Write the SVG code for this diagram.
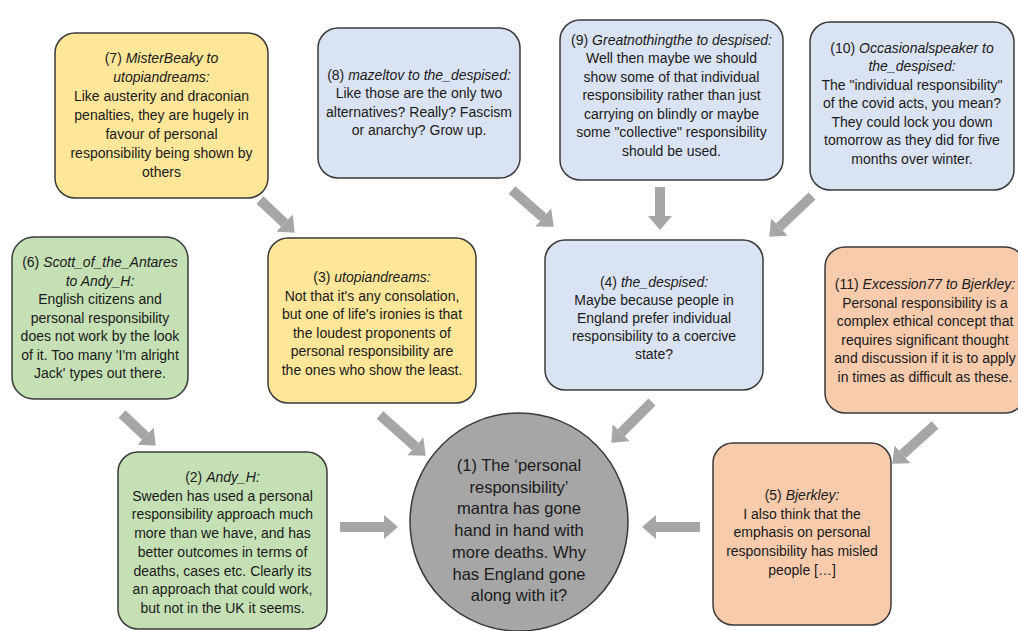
<svg xmlns="http://www.w3.org/2000/svg" width="1018" height="631" viewBox="0 0 1018 631">
<style>
.box{stroke:#3a3a3a;stroke-width:1.5}
.yel{fill:#ffe699}.grn{fill:#c5e0b4}.blu{fill:#dae3f3}.org{fill:#f8cbad}
.t{font-family:"Liberation Sans",Arial,sans-serif;font-size:14px;fill:#1a1a1a;text-anchor:middle}
.c{font-family:"Liberation Sans",Arial,sans-serif;font-size:16.5px;fill:#1a1a1a;text-anchor:middle}
.i{font-style:italic}
.conn{stroke:#a6a6a6;stroke-width:10;fill:none}
</style>
<defs>
<marker id="ah" markerUnits="userSpaceOnUse" markerWidth="14" markerHeight="24" refX="0" refY="12" orient="auto" viewBox="0 0 14 24">
<path d="M0,0 L14,12 L0,24 Z" fill="#a6a6a6"/>
</marker>
</defs>
<rect width="1018" height="631" fill="#ffffff"/>
<g id="connectors">
<line class="conn" x1="260" y1="200" x2="284.5" y2="223.1" marker-end="url(#ah)"/>
<line class="conn" x1="512" y1="190" x2="543.2" y2="217.4" marker-end="url(#ah)"/>
<line class="conn" x1="660" y1="187" x2="660" y2="216" marker-end="url(#ah)"/>
<line class="conn" x1="812" y1="196" x2="779.4" y2="227" marker-end="url(#ah)"/>
<line class="conn" x1="122" y1="414" x2="145.5" y2="436.1" marker-end="url(#ah)"/>
<line class="conn" x1="380" y1="415" x2="415.3" y2="446.4" marker-end="url(#ah)"/>
<line class="conn" x1="652" y1="402" x2="621.2" y2="432.8" marker-end="url(#ah)"/>
<line class="conn" x1="935" y1="425" x2="902.6" y2="454.3" marker-end="url(#ah)"/>
<line class="conn" x1="340" y1="527" x2="384" y2="527" marker-end="url(#ah)"/>
<line class="conn" x1="700" y1="527" x2="656" y2="527" marker-end="url(#ah)"/>
</g>
<g id="n7">
<rect class="box yel" x="55" y="33" width="213" height="165" rx="20"/>
<text class="t"><tspan x="161.5" y="63">(7) <tspan class="i">MisterBeaky to</tspan></tspan><tspan x="161.5" y="82" class="i">utopiandreams:</tspan><tspan x="161.5" y="101">Like austerity and draconian</tspan><tspan x="161.5" y="120">penalties, they are hugely in</tspan><tspan x="161.5" y="139">favour of personal</tspan><tspan x="161.5" y="158">responsibility being shown by</tspan><tspan x="161.5" y="177">others</tspan></text>
</g>
<g id="n8">
<rect class="box blu" x="318" y="28" width="202" height="150" rx="20"/>
<text class="t"><tspan x="419" y="79.5">(8) <tspan class="i">mazeltov to the_despised:</tspan></tspan><tspan x="419" y="98">Like those are the only two</tspan><tspan x="419" y="116.5">alternatives? Really? Fascism</tspan><tspan x="419" y="135">or anarchy? Grow up.</tspan></text>
</g>
<g id="n9">
<rect class="box blu" x="560" y="20" width="223" height="160" rx="20"/>
<text class="t"><tspan x="671.5" y="44.5">(9) <tspan class="i">Greatnothingthe to despised:</tspan></tspan><tspan x="671.5" y="63">Well then maybe we should</tspan><tspan x="671.5" y="81.5">show some of that individual</tspan><tspan x="671.5" y="100">responsibility rather than just</tspan><tspan x="671.5" y="118.5">carrying on blindly or maybe</tspan><tspan x="671.5" y="137">some "collective" responsibility</tspan><tspan x="671.5" y="155.5">should be used.</tspan></text>
</g>
<g id="n10">
<rect class="box blu" x="810" y="22" width="204" height="168" rx="20"/>
<text class="t"><tspan x="912" y="52.5">(10) <tspan class="i">Occasionalspeaker to</tspan></tspan><tspan x="912" y="71" class="i">the_despised:</tspan><tspan x="912" y="89.5">The "individual responsibility"</tspan><tspan x="912" y="108">of the covid acts, you mean?</tspan><tspan x="912" y="126.5">They could lock you down</tspan><tspan x="912" y="145">tomorrow as they did for five</tspan><tspan x="912" y="163.5">months over winter.</tspan></text>
</g>
<g id="n6">
<rect class="box grn" x="12" y="237" width="176" height="162" rx="22"/>
<text class="t"><tspan x="100" y="267">(6) <tspan class="i">Scott_of_the_Antares</tspan></tspan><tspan x="100" y="285.5" class="i">to Andy_H:</tspan><tspan x="100" y="304">English citizens and</tspan><tspan x="100" y="322.5">personal responsibility</tspan><tspan x="100" y="341">does not work by the look</tspan><tspan x="100" y="359.5">of it. Too many 'I'm alright</tspan><tspan x="100" y="378">Jack' types out there.</tspan></text>
</g>
<g id="n3">
<rect class="box yel" x="268" y="238" width="208" height="165" rx="20"/>
<text class="t"><tspan x="372" y="282">(3) <tspan class="i">utopiandreams:</tspan></tspan><tspan x="372" y="300.5">Not that it's any consolation,</tspan><tspan x="372" y="319">but one of life's ironies is that</tspan><tspan x="372" y="337.5">the loudest proponents of</tspan><tspan x="372" y="356">personal responsibility are</tspan><tspan x="372" y="374.5">the ones who show the least.</tspan></text>
</g>
<g id="n4">
<rect class="box blu" x="545" y="240" width="218" height="150" rx="20"/>
<text class="t"><tspan x="654" y="286.5">(4) <tspan class="i">the_despised:</tspan></tspan><tspan x="654" y="304.5">Maybe because people in</tspan><tspan x="654" y="322.5">England prefer individual</tspan><tspan x="654" y="340.5">responsibility to a coercive</tspan><tspan x="654" y="358.5">state?</tspan></text>
</g>
<g id="n11">
<rect class="box org" x="825" y="247" width="200" height="166" rx="20"/>
<text class="t"><tspan x="925" y="289">(11) <tspan class="i">Excession77 to Bjerkley:</tspan></tspan><tspan x="925" y="307.5">Personal responsibility is a</tspan><tspan x="925" y="326">complex ethical concept that</tspan><tspan x="925" y="344.5">requires significant thought</tspan><tspan x="925" y="363">and discussion if it is to apply</tspan><tspan x="925" y="381.5">in times as difficult as these.</tspan></text>
</g>
<g id="n2">
<rect class="box grn" x="118" y="452" width="209" height="177" rx="20"/>
<text class="t"><tspan x="222.5" y="482">(2) <tspan class="i">Andy_H:</tspan></tspan><tspan x="222.5" y="500.7">Sweden has used a personal</tspan><tspan x="222.5" y="519.4">responsibility approach much</tspan><tspan x="222.5" y="538.1">more than we have, and has</tspan><tspan x="222.5" y="556.8">better outcomes in terms of</tspan><tspan x="222.5" y="575.5">deaths, cases etc. Clearly its</tspan><tspan x="222.5" y="594.2">an approach that could work,</tspan><tspan x="222.5" y="612.9">but not in the UK it seems.</tspan></text>
</g>
<g id="n5">
<rect class="box org" x="713" y="443" width="178" height="182" rx="20"/>
<text class="t"><tspan x="802" y="500">(5) <tspan class="i">Bjerkley:</tspan></tspan><tspan x="802" y="518.7">I also think that the</tspan><tspan x="802" y="537.4">emphasis on personal</tspan><tspan x="802" y="556.1">responsibility has misled</tspan><tspan x="802" y="574.8">people […]</tspan></text>
</g>
<g id="n1">
<circle cx="519" cy="522" r="109" fill="#a6a6a6" stroke="#3a3a3a" stroke-width="1.5"/>
<text class="c"><tspan x="519" y="471">(1) The ‘personal</tspan><tspan x="519" y="492.7">responsibility’</tspan><tspan x="519" y="514.4">mantra has gone</tspan><tspan x="519" y="536.1">hand in hand with</tspan><tspan x="519" y="557.8">more deaths. Why</tspan><tspan x="519" y="579.5">has England gone</tspan><tspan x="519" y="601.2">along with it?</tspan></text>
</g>
</svg>
